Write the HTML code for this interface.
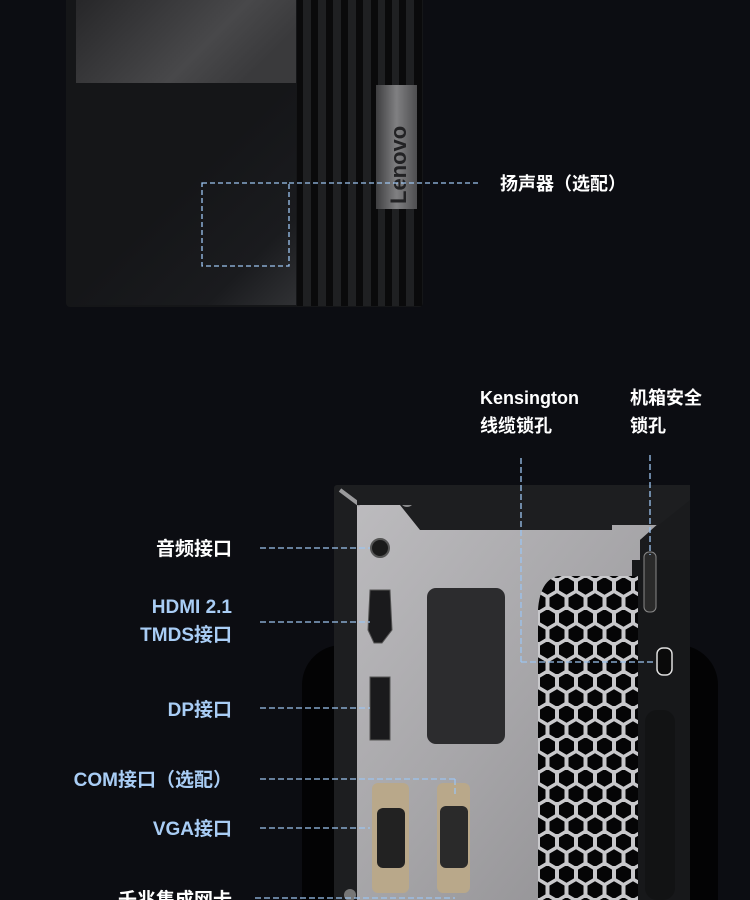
<!DOCTYPE html>
<html><head><meta charset="utf-8"><style>
html,body{margin:0;padding:0;background:#0c0d12;}
svg{display:block}
text{font-family:"Liberation Sans","Noto Sans CJK SC",sans-serif;font-weight:bold;}
</style></head><body>
<svg width="750" height="900" viewBox="0 0 750 900" xmlns="http://www.w3.org/2000/svg">
<defs>
<linearGradient id="spk" x1="0" y1="0" x2="1" y2="0.4"><stop offset="0" stop-color="#262628"/><stop offset="0.7" stop-color="#48484a"/><stop offset="1" stop-color="#3a3a3c"/></linearGradient>
<linearGradient id="badge" x1="0" y1="0" x2="1" y2="0"><stop offset="0" stop-color="#3e3e40"/><stop offset="0.5" stop-color="#808082"/><stop offset="1" stop-color="#4e4e50"/></linearGradient>
<linearGradient id="plate" x1="0" y1="0" x2="1" y2="1"><stop offset="0" stop-color="#bdbcbf"/><stop offset="0.5" stop-color="#a6a5a8"/><stop offset="1" stop-color="#8c8b8e"/></linearGradient>
<linearGradient id="tri" x1="0" y1="0" x2="1" y2="1"><stop offset="0" stop-color="#0d0e10"/><stop offset="0.8" stop-color="#1a1b1e"/><stop offset="1" stop-color="#303134"/></linearGradient>
<pattern id="hex" width="19" height="32" patternUnits="userSpaceOnUse" x="538" y="578">
<rect width="19" height="32" fill="#c8c8cb"/>
<polygon points="9.5,-0.8 17,3.6 17,12.4 9.5,16.8 2,12.4 2,3.6" fill="#050506"/>
<polygon points="0,15.2 7.5,19.6 7.5,28.4 0,32.8 -7.5,28.4 -7.5,19.6" fill="#050506"/>
<polygon points="19,15.2 26.5,19.6 26.5,28.4 19,32.8 11.5,28.4 11.5,19.6" fill="#050506"/>
</pattern>
</defs>
<rect width="750" height="900" fill="#0c0d12"/>

<!-- top device -->
<rect x="66" y="-5" width="357" height="312" rx="4" fill="#151618"/>
<rect x="76" y="-5" width="220" height="88" fill="url(#spk)"/>
<polygon points="296,83 296,305 70,305" fill="url(#tri)"/>
<rect x="297" y="-5" width="125" height="311" fill="#0a0a0b"/>
<g fill="#1f2022">
<rect x="303" y="0" width="8" height="306"/><rect x="318" y="0" width="8" height="306"/><rect x="333" y="0" width="8" height="306"/><rect x="348" y="0" width="8" height="306"/><rect x="363" y="0" width="8" height="306"/><rect x="378" y="0" width="7" height="306"/><rect x="392" y="0" width="7" height="306"/><rect x="406" y="0" width="8" height="306"/>
</g>
<rect x="376" y="85" width="41" height="124" fill="url(#badge)"/>
<text transform="translate(406,204) rotate(-90)" font-size="22" fill="#222224">Lenovo</text>

<g stroke="#9cc4f0" stroke-width="1.3" stroke-dasharray="5,3" fill="none">
<rect x="202" y="183" width="87" height="83"/>
<line x1="289" y1="183" x2="480" y2="183"/>
</g>
<text x="500" y="190" font-size="18" fill="#fff">扬声器（选配）</text>

<!-- bottom -->
<text x="480" y="404" font-size="18" fill="#fff">Kensington</text>
<text x="480" y="432" font-size="18" fill="#fff">线缆锁孔</text>
<text x="630" y="404" font-size="18" fill="#fff">机箱安全</text>
<text x="630" y="432" font-size="18" fill="#fff">锁孔</text>

<rect x="302" y="645" width="416" height="300" rx="40" fill="#030304"/>
<rect x="334" y="485" width="356" height="420" rx="3" fill="#1d1e20"/>
<path d="M357,505 L400,505 L420,530 L612,530 L612,485 L690,485 L690,495 L640,540 L640,900 L357,900 Z" fill="url(#plate)"/>
<path d="M340,490 L360,505" stroke="#9a9a9c" stroke-width="4"/>
<path d="M686,490 L660,515" stroke="#777" stroke-width="4"/>
<rect x="612" y="485" width="78" height="40" fill="#1d1e20"/>
<path d="M640,540 L690,500 L690,900 L640,900 Z" fill="#1a1b1d"/>
<rect x="632" y="560" width="58" height="340" fill="#17181a"/>
<circle cx="407" cy="500" r="7" fill="#8a8a8c"/>
<rect x="357" y="490" width="255" height="15" fill="#1d1e20"/>

<path d="M558,576 Q540,580 538,610 L538,900 L638,900 L638,576 Z" fill="url(#hex)"/>
<rect x="644" y="552" width="12" height="60" rx="5" fill="#2a2a2a" stroke="#888" stroke-width="1"/>
<rect x="657" y="648" width="15" height="27" rx="6" fill="#0a0a0a" stroke="#ddd" stroke-width="1.5"/>
<rect x="645" y="710" width="30" height="190" rx="12" fill="#121314"/>

<circle cx="380" cy="548" r="9" fill="#1a1a1a" stroke="#555" stroke-width="2"/>
<path d="M370,590 L390,590 L392,630 L382,643 L374,643 L368,630 Z" fill="#1a1a1c" stroke="#555"/>
<path d="M370,677 L390,677 L390,740 L370,740 Z" fill="#1a1a1c" stroke="#555"/>
<rect x="427" y="588" width="78" height="156" rx="9" fill="#2c2c2e"/>
<rect x="372" y="783" width="37" height="110" rx="6" fill="#b9a88a"/>
<rect x="377" y="808" width="28" height="60" rx="6" fill="#222"/>
<rect x="437" y="783" width="33" height="110" rx="6" fill="#b9a88a"/>
<rect x="440" y="806" width="28" height="62" rx="6" fill="#2a2a2a"/>
<circle cx="350" cy="895" r="6" fill="#777"/>

<g stroke="#9cc4f0" stroke-width="1.3" stroke-dasharray="6,3" fill="none">
<line x1="521" y1="458" x2="521" y2="662"/>
<line x1="521" y1="662" x2="655" y2="662"/>
<line x1="650" y1="455" x2="650" y2="555"/>
<line x1="260" y1="548" x2="370" y2="548"/>
<line x1="260" y1="622" x2="370" y2="622"/>
<line x1="260" y1="708" x2="370" y2="708"/>
<line x1="260" y1="779" x2="455" y2="779"/>
<line x1="455" y1="779" x2="455" y2="795"/>
<line x1="260" y1="828" x2="370" y2="828"/>
<line x1="255" y1="898" x2="455" y2="898"/>
</g>

<g font-size="19" text-anchor="end">
<text x="232" y="555" fill="#fff">音频接口</text>
<text x="232" y="613" fill="#a9cdf5">HDMI 2.1</text>
<text x="232" y="641" fill="#a9cdf5">TMDS接口</text>
<text x="232" y="716" fill="#a9cdf5">DP接口</text>
<text x="232" y="786" fill="#a9cdf5">COM接口（选配）</text>
<text x="232" y="835" fill="#a9cdf5">VGA接口</text>
<text x="232" y="906" fill="#fff">千兆集成网卡</text>
</g>
</svg>
</body></html>
